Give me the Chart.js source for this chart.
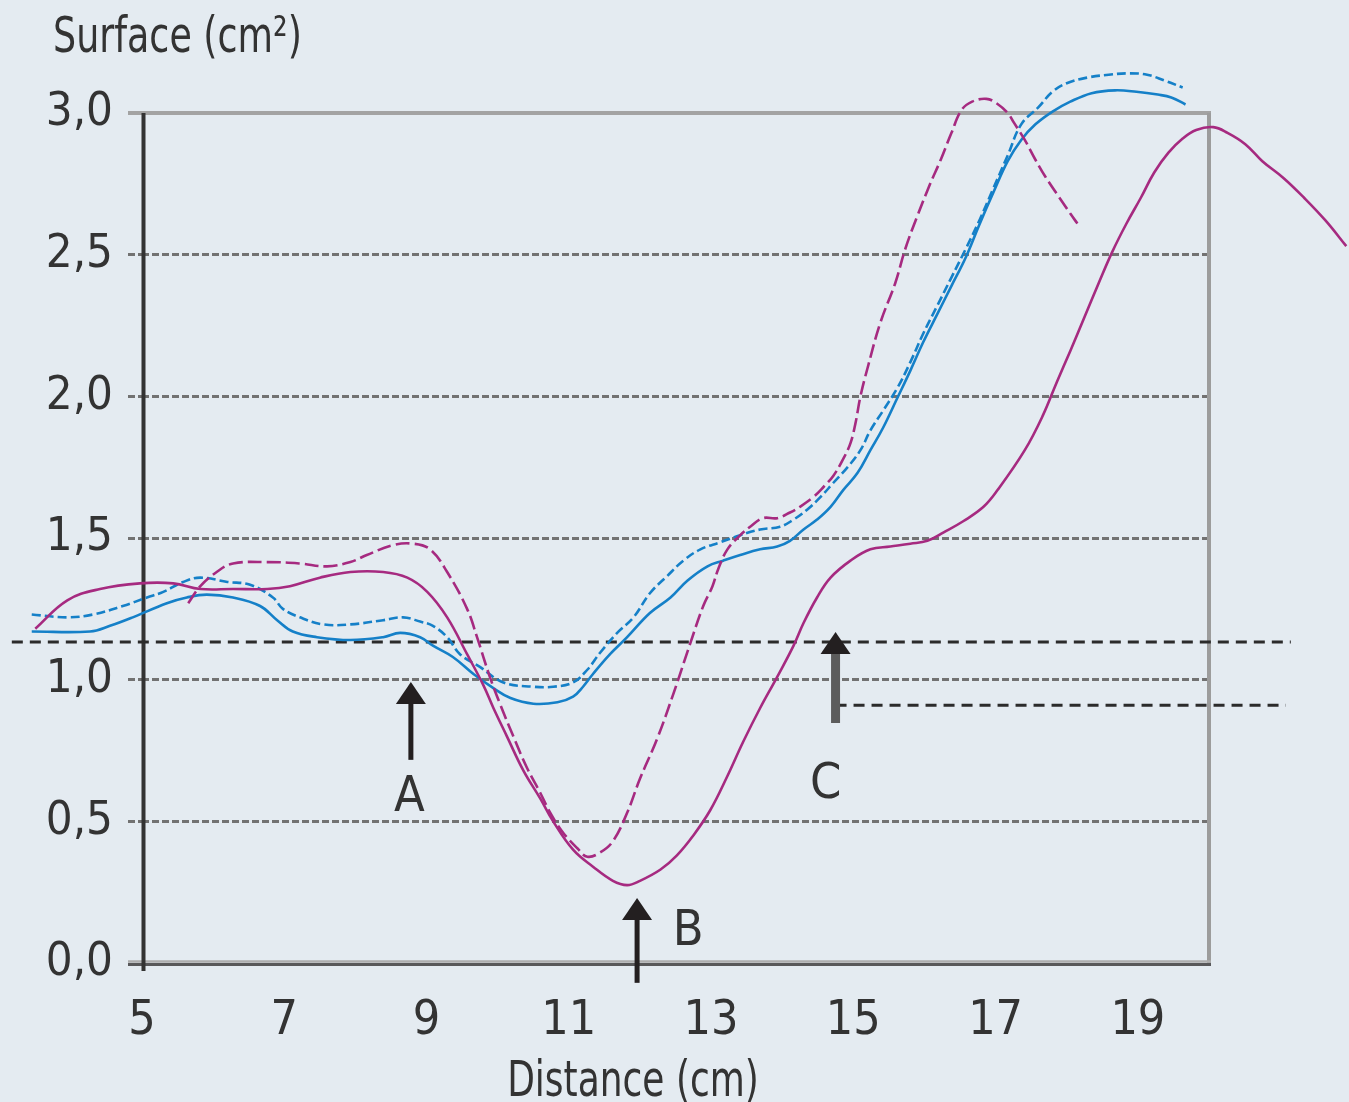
<!DOCTYPE html>
<html>
<head>
<meta charset="utf-8">
<title>Surface (cm²)</title>
<script src="https://cdn.jsdelivr.net/npm/chart.js@4.4.0/dist/chart.umd.min.js"></script>
<style>
  html, body { margin: 0; padding: 0; background: #e4ebf1; }
  #wrap { width: 1349px; height: 1102px; position: relative; }
</style>
</head>
<body>
<div id="wrap"><canvas id="chart"></canvas></div>
<script>
// axis ticks
const xTicks = [5, 7, 9, 11, 13, 15, 17, 19]
const xTickLabels = ['5', '7', '9', '11', '13', '15', '17', '19']
const yTicks = [0, 0.5, 1, 1.5, 2, 2.5, 3]
const yTickLabels = ['0,0', '0,5', '1,0', '1,5', '2,0', '2,5', '3,0']

// magenta solid curve
const magentaSolidX = [3.50, 3.95, 4.41, 4.97, 5.44, 5.82, 6.28, 6.76, 7.08, 7.50, 7.93, 8.39, 8.73, 9.01, 9.29, 9.57, 9.80, 9.94, 10.13, 10.36, 10.60, 10.78, 11.06, 11.34, 11.62, 11.82, 12.00, 12.29, 12.52, 12.75, 12.99, 13.23, 13.45, 13.69, 13.93, 14.16, 14.30, 14.49, 14.68, 14.96, 15.24, 15.52, 15.80, 16.04, 16.27, 16.55, 16.83, 17.03, 17.41, 17.66, 17.86, 18.05, 18.25, 18.45, 18.64, 18.84, 19.04, 19.23, 19.43, 19.63, 19.82, 20.06, 20.26, 20.51, 20.75, 21.05, 21.34, 21.64, 21.93]
const magentaSolidY = [1.18, 1.28, 1.32, 1.34, 1.34, 1.32, 1.32, 1.32, 1.33, 1.36, 1.38, 1.38, 1.36, 1.31, 1.22, 1.09, 0.98, 0.90, 0.80, 0.68, 0.58, 0.50, 0.40, 0.34, 0.29, 0.275, 0.29, 0.33, 0.38, 0.45, 0.54, 0.66, 0.78, 0.90, 1.01, 1.12, 1.20, 1.29, 1.36, 1.42, 1.46, 1.47, 1.48, 1.49, 1.52, 1.56, 1.61, 1.67, 1.81, 1.93, 2.05, 2.16, 2.28, 2.40, 2.51, 2.61, 2.70, 2.79, 2.86, 2.91, 2.94, 2.95, 2.93, 2.89, 2.83, 2.77, 2.70, 2.62, 2.53]

// magenta dashed curve
const magentaDashX = [5.65, 5.82, 6.05, 6.28, 6.76, 7.22, 7.60, 7.93, 8.16, 8.53, 8.81, 9.05, 9.29, 9.57, 9.71, 9.89, 10.04, 10.22, 10.41, 10.60, 10.74, 10.92, 11.12, 11.26, 11.44, 11.62, 11.82, 12.00, 12.24, 12.47, 12.71, 12.89, 13.02, 13.10, 13.23, 13.41, 13.55, 13.73, 13.93, 14.11, 14.25, 14.44, 14.58, 14.72, 14.86, 14.96, 15.03, 15.10, 15.20, 15.38, 15.59, 15.73, 15.89, 16.08, 16.22, 16.38, 16.52, 16.67, 16.87, 17.01, 17.17, 17.26, 17.41, 17.56, 17.70, 17.90, 18.05, 18.15]
const magentaDashY = [1.27, 1.33, 1.38, 1.41, 1.415, 1.41, 1.40, 1.415, 1.44, 1.475, 1.48, 1.46, 1.38, 1.25, 1.15, 1.01, 0.91, 0.80, 0.69, 0.60, 0.53, 0.46, 0.405, 0.375, 0.39, 0.43, 0.53, 0.65, 0.79, 0.95, 1.13, 1.26, 1.33, 1.39, 1.46, 1.51, 1.54, 1.57, 1.57, 1.59, 1.61, 1.645, 1.68, 1.72, 1.78, 1.835, 1.905, 2.00, 2.10, 2.26, 2.40, 2.52, 2.63, 2.75, 2.83, 2.93, 3.01, 3.04, 3.05, 3.035, 3.00, 2.965, 2.905, 2.835, 2.775, 2.70, 2.645, 2.61]

// blue solid curve
const blueSolidX = [3.45, 4.27, 4.55, 4.87, 5.35, 5.63, 5.91, 6.28, 6.66, 6.90, 7.12, 7.46, 7.93, 8.39, 8.63, 8.91, 9.09, 9.37, 9.66, 9.94, 10.18, 10.50, 10.84, 11.06, 11.20, 11.34, 11.58, 11.82, 12.14, 12.43, 12.67, 12.95, 13.17, 13.41, 13.69, 13.93, 14.11, 14.30, 14.49, 14.68, 14.86, 15.06, 15.24, 15.42, 15.62, 15.80, 15.98, 16.18, 16.38, 16.58, 16.77, 16.97, 17.17, 17.36, 17.56, 17.80, 18.05, 18.35, 18.68, 18.98, 19.28, 19.47, 19.67]
const blueSolidY = [1.17, 1.17, 1.19, 1.22, 1.27, 1.29, 1.30, 1.29, 1.26, 1.21, 1.17, 1.15, 1.14, 1.15, 1.165, 1.15, 1.12, 1.08, 1.02, 0.97, 0.935, 0.915, 0.92, 0.94, 0.975, 1.02, 1.09, 1.15, 1.235, 1.29, 1.35, 1.40, 1.42, 1.44, 1.46, 1.47, 1.49, 1.53, 1.565, 1.61, 1.67, 1.73, 1.81, 1.89, 1.995, 2.09, 2.19, 2.29, 2.39, 2.49, 2.605, 2.72, 2.83, 2.905, 2.96, 3.005, 3.04, 3.07, 3.08, 3.075, 3.065, 3.055, 3.03]

// blue dashed curve
const blueDashX = [3.45, 3.95, 4.31, 4.73, 5.07, 5.30, 5.58, 5.82, 6.20, 6.52, 6.84, 6.98, 7.22, 7.55, 7.93, 8.39, 8.67, 8.91, 9.09, 9.29, 9.47, 9.75, 10.08, 10.50, 10.78, 11.06, 11.26, 11.44, 11.68, 11.91, 12.14, 12.38, 12.61, 12.85, 13.13, 13.41, 13.69, 13.97, 14.16, 14.35, 14.54, 14.72, 14.92, 15.10, 15.24, 15.42, 15.62, 15.80, 15.98, 16.18, 16.38, 16.58, 16.77, 16.97, 17.17, 17.36, 17.60, 17.80, 18.00, 18.29, 18.59, 18.88, 19.13, 19.37, 19.63]
const blueDashY = [1.23, 1.22, 1.23, 1.26, 1.29, 1.31, 1.345, 1.36, 1.345, 1.335, 1.29, 1.25, 1.22, 1.195, 1.195, 1.21, 1.22, 1.205, 1.19, 1.15, 1.09, 1.045, 0.99, 0.975, 0.975, 0.99, 1.035, 1.095, 1.165, 1.22, 1.305, 1.365, 1.42, 1.46, 1.485, 1.51, 1.53, 1.54, 1.565, 1.60, 1.645, 1.695, 1.75, 1.81, 1.88, 1.95, 2.03, 2.12, 2.22, 2.32, 2.42, 2.52, 2.62, 2.735, 2.85, 2.96, 3.02, 3.075, 3.105, 3.125, 3.135, 3.14, 3.135, 3.115, 3.09]

// black dashed reference levels
const refLevelY = [1.133, 0.91]
const refLevelFromX = [3.17, 14.75]
const refLevelToX = [21.15, 21.08]

// arrows A, B, C (data units)
const arrowNames = ['A', 'B', 'C']
const arrowX = [8.78, 11.96, 14.75]
const arrowFromY = [0.717, -0.07, 0.847]
const arrowToY = [0.992, 0.229, 1.168]
const letterX = [8.76, 12.68, 14.61]
const letterY = [0.582, 0.109, 0.628]

const FONT = "'Liberation Sans Narrow', 'DejaVu Sans Condensed', 'Arial Narrow', sans-serif"
const TEXT = '#333333'
const MAGENTA = '#a62a80'
const BLUE = '#1580c8'

Chart.defaults.font.family = FONT
Chart.defaults.color = TEXT

const toPoints = (xs, ys) => xs.map((x, i) => ({ x: x, y: ys[i] }))

function curve(label, xs, ys, color, dash) {
  return {
    label: label,
    data: toPoints(xs, ys),
    borderColor: color,
    borderWidth: 2.6,
    borderDash: dash,
    pointRadius: 0,
    tension: 0.4,
    capBezierPoints: false,
    clip: false,
    fill: false
  }
}

function refLevel(i) {
  return {
    label: 'level ' + (i + 1),
    data: [{ x: refLevelFromX[i], y: refLevelY[i] }, { x: refLevelToX[i], y: refLevelY[i] }],
    borderColor: '#2b2b2b',
    borderWidth: 3,
    borderDash: [11, 7],
    pointRadius: 0,
    clip: false,
    fill: false
  }
}

function strokeLine(ctx, xa, ya, xb, yb, color, width) {
  ctx.beginPath()
  ctx.strokeStyle = color
  ctx.lineWidth = width
  ctx.moveTo(xa, ya)
  ctx.lineTo(xb, yb)
  ctx.stroke()
}

// the source uses a very narrow face, so squeeze the wide words a bit
function narrowText(ctx, text, x, y, align, squeeze) {
  ctx.save()
  ctx.font = '50px ' + FONT
  ctx.fillStyle = TEXT
  ctx.textAlign = align
  ctx.textBaseline = 'alphabetic'
  ctx.translate(x, y)
  ctx.scale(squeeze, 1)
  ctx.fillText(text, 0, 0)
  ctx.restore()
}

// plot box: grey top/right, two-tone bottom, black left axis
const framePlugin = {
  id: 'frame',
  beforeDatasetsDraw(chart) {
    const ctx = chart.ctx
    const xs = chart.scales.x, ys = chart.scales.y
    const x0 = xs.getPixelForValue(5), x1 = xs.getPixelForValue(20)
    const y0 = ys.getPixelForValue(0), y1 = ys.getPixelForValue(3)
    ctx.save()
    ctx.setLineDash([])
    strokeLine(ctx, x0 - 14, y1, x1 + 2, y1, '#a3a3a3', 4)
    strokeLine(ctx, x1, y1, x1, y0, '#9c9c9c', 4)
    strokeLine(ctx, x0 - 14, y0 - 1.5, x1 + 2, y0 - 1.5, '#adadad', 2.5)
    strokeLine(ctx, x0 - 14, y0 + 1.5, x1 + 2, y0 + 1.5, '#58585a', 3)
    strokeLine(ctx, x0 + 1.5, y1, x0 + 1.5, y0 + 8, '#333333', 4)
    ctx.restore()
  }
}

// arrows, their letters and the two axis titles
const notesPlugin = {
  id: 'notes',
  afterDatasetsDraw(chart) {
    const ctx = chart.ctx
    const xs = chart.scales.x, ys = chart.scales.y
    ctx.save()
    ctx.setLineDash([])
    arrowNames.forEach((name, i) => {
      const px = xs.getPixelForValue(arrowX[i])
      const pFrom = ys.getPixelForValue(arrowFromY[i])
      const pTo = ys.getPixelForValue(arrowToY[i])
      const heavy = name === 'C'
      strokeLine(ctx, px, pFrom, px, pTo + 18, heavy ? '#5c5c5c' : '#231f20', heavy ? 9 : 5)
      ctx.beginPath()
      ctx.fillStyle = '#231f20'
      ctx.moveTo(px, pTo)
      ctx.lineTo(px - 15, pTo + 22)
      ctx.lineTo(px + 15, pTo + 22)
      ctx.closePath()
      ctx.fill()

      ctx.font = '50px ' + FONT
      ctx.fillStyle = TEXT
      ctx.textAlign = 'center'
      ctx.textBaseline = 'middle'
      ctx.fillText(name, xs.getPixelForValue(letterX[i]), ys.getPixelForValue(letterY[i]))
    })
    ctx.restore()

    narrowText(ctx, 'Surface (cm²)', 53, 52, 'left', 0.81)
    narrowText(ctx, 'Distance (cm)', chart.chartArea.left + 491, 1096, 'center', 0.8)
  }
}

new Chart(document.getElementById('chart'), {
  type: 'line',
  data: {
    datasets: [
      curve('magenta solid', magentaSolidX, magentaSolidY, MAGENTA, []),
      curve('magenta dashed', magentaDashX, magentaDashY, MAGENTA, [14, 5]),
      curve('blue solid', blueSolidX, blueSolidY, BLUE, []),
      curve('blue dashed', blueDashX, blueDashY, BLUE, [9, 4]),
      refLevel(0),
      refLevel(1)
    ]
  },
  options: {
    responsive: true,
    maintainAspectRatio: false,
    animation: false,
    devicePixelRatio: 1,
    layout: { padding: { top: 113, left: 0, right: 140, bottom: 0 } },
    plugins: {
      legend: { display: false },
      tooltip: { enabled: false },
      title: { display: false }
    },
    scales: {
      x: {
        type: 'linear',
        bounds: 'data',
        afterDataLimits: (s) => { s.min = 5; s.max = 20 },
        afterBuildTicks: (s) => {
          s.min = 5; s.max = 20
          s.ticks = xTicks.map(v => ({ value: v }))
        },
        afterFit: (s) => { s.height = 139 },
        grid: { display: false, drawTicks: false },
        border: { display: false },
        ticks: {
          padding: 35,
          autoSkip: false,
          maxRotation: 0,
          color: TEXT,
          font: { size: 48, lineHeight: 1 },
          callback: (v, i) => xTickLabels[i]
        }
      },
      y: {
        type: 'linear',
        min: 0,
        max: 3,
        afterBuildTicks: (s) => { s.ticks = yTicks.map(v => ({ value: v })) },
        afterFit: (s) => { s.width = 142 },
        grid: {
          color: (c) => (c.tick && (c.tick.value === 0 || c.tick.value === 3)) ? 'rgba(0,0,0,0)' : '#727272',
          tickColor: (c) => (c.tick && (c.tick.value === 0 || c.tick.value === 3)) ? 'rgba(0,0,0,0)' : '#727272',
          lineWidth: 3,
          tickLength: 14,
          tickBorderDash: [7, 3]
        },
        border: { display: false, dash: [7, 3] },
        ticks: {
          padding: 15,
          color: TEXT,
          font: { size: 47, lineHeight: 1 },
          callback: (v, i) => yTickLabels[i]
        }
      }
    }
  },
  plugins: [framePlugin, notesPlugin]
})
</script>
</body>
</html>
